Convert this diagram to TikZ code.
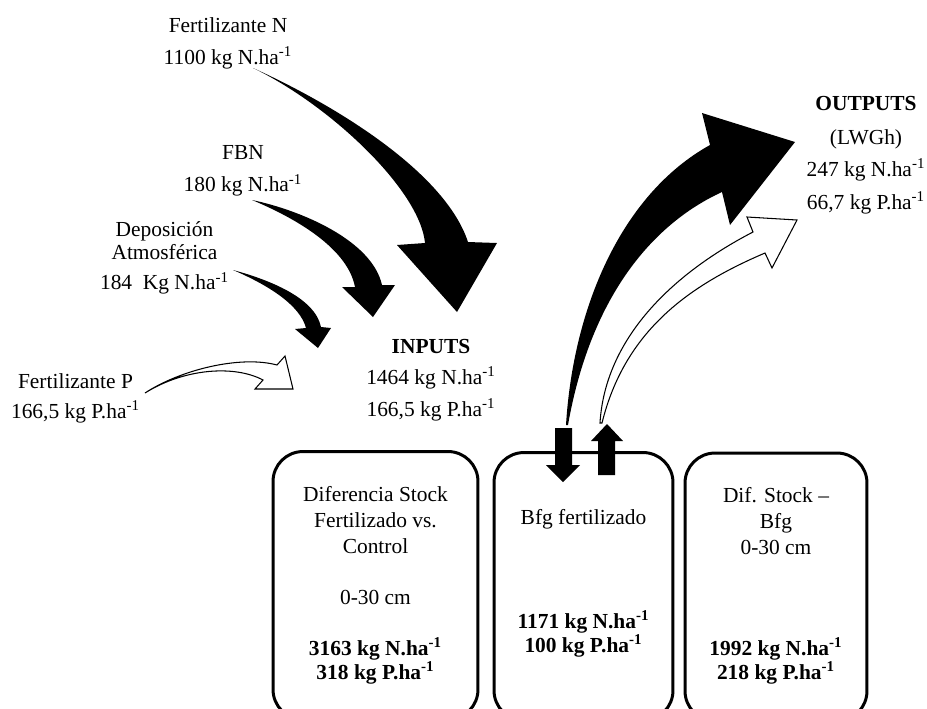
\documentclass[tikz,border=0pt]{standalone}
\usepackage{fontspec}
\setmainfont{Liberation Serif}
\usetikzlibrary{positioning}

\newcommand{\Nha}{N.ha\textsuperscript{-1}}
\newcommand{\Pha}{P.ha\textsuperscript{-1}}

\begin{document}
\begin{tikzpicture}[
    x=0.02cm, y=-0.02cm,
    txt/.style={align=center, inner sep=0pt, font=\fontsize{12.2}{14.5}\selectfont},
    bold txt/.style={txt, font=\fontsize{12.2}{14.5}\selectfont\bfseries},
    stock/.style={draw, line width=1.7pt, rounded corners=0.6cm, minimum height=5.36cm},
    flow/.style={fill=black},
    pflow/.style={draw, fill=white, line width=0.6pt}
]
\useasboundingbox (0,0) rectangle (927,708);

% Stock boxes
\node[stock, minimum width=4.1cm] (dif) at (375.5,585.5) {};
\node[stock, minimum width=3.58cm] (bfg) at (583.5,586.5) {};
\node[stock, minimum width=3.64cm] (difbfg) at (776,587) {};

% Texts
\node[txt] (fertN) at (228,43) {Fertilizante N\\[3.7pt]1100 kg \Nha};
\node[txt] (fbn) at (243,171) {FBN\\[3.7pt]180 kg \Nha};
\node[txt] (dep) at (164.5,258) {Deposición\\[-1.4pt]Atmosférica\\[2.6pt]184\ \ Kg \Nha};
\node[txt] (fertP) at (75.5,398) {Fertilizante P\\[2.6pt]166,5 kg \Pha};
\node[txt] (inputs) at (431,380) {\textbf{INPUTS}\\[3.2pt]1464 kg \Nha\\[3.7pt]166,5 kg \Pha};
\node[txt] (outputs) at (866,155) {\textbf{OUTPUTS}\\[4.8pt](LWGh)\\[3.7pt]247 kg \Nha\\[4.3pt]66,7 kg \Pha};

\node[txt] (difname) at (375.5,520) {Diferencia Stock\\[0.5pt]Fertilizado vs.\\[0.5pt]Control};
\node[txt] (difcm) at (375.5,597) {0-30 cm};
\node[bold txt] (difval) at (375.5,661) {3163 kg \Nha\\[-0.8pt]318 kg \Pha};

\node[txt] (bfgname) at (583.5,519) {Bfg fertilizado};
\node[bold txt] (bfgval) at (583.5,634) {1171 kg \Nha\\[-0.8pt]100 kg \Pha};

\node[txt] (difbfgname) at (776,521) {Dif. Stock –\\[0.5pt]Bfg\\[0.5pt]0-30 cm};
\node[bold txt] (difbfgval) at (776,661) {1992 kg \Nha\\[-0.8pt]218 kg \Pha};

% Inputs
\fill[flow] (253,68) .. controls (335,105) and (445,172) .. (468,242) -- (497,243) -- (457,312)
    -- (397,245) -- (425,243) .. controls (420,190) and (330,105) .. (253,68) -- cycle;
\fill[flow] (252,200) .. controls (300,210) and (372,240) .. (382,285) -- (395,285) -- (373,317)
    -- (342,287) -- (355,287) .. controls (348,250) and (300,220) .. (252,200) -- cycle;
\fill[flow] (233,270) .. controls (270,280) and (315,298) .. (321,327) -- (331,328) -- (318,348)
    -- (295,329) -- (306,328) .. controls (300,305) and (268,285) .. (233,270) -- cycle;
\filldraw[pflow] (145,393) .. controls (180,370) and (240,355) .. (277,365) -- (285,356) -- (293,389)
    -- (255,389) -- (263,380) .. controls (235,365) and (185,368) .. (145,393) -- cycle;

% Outputs
\fill[flow] (566,425) .. controls (573,310) and (620,195) .. (710,145) -- (702,113) -- (795,142)
    -- (730,225) -- (722,192) .. controls (650,225) and (590,300) .. (568,425) -- cycle;
\filldraw[pflow] (600,423) .. controls (605,340) and (670,275) .. (753,232) -- (747,217) -- (797,220)
    -- (772,268) -- (765,253) .. controls (690,285) and (625,330) .. (602,423) -- cycle;

% In and out of Bfg
\fill[flow] (555,428) -- (572,428) -- (572,465) -- (580,465) -- (563,482) -- (546,465) -- (555,465) -- cycle;
\fill[flow] (598,475) -- (615,475) -- (615,441) -- (623,441) -- (607,424) -- (591,441) -- (598,441) -- cycle;

\end{tikzpicture}
\end{document}
